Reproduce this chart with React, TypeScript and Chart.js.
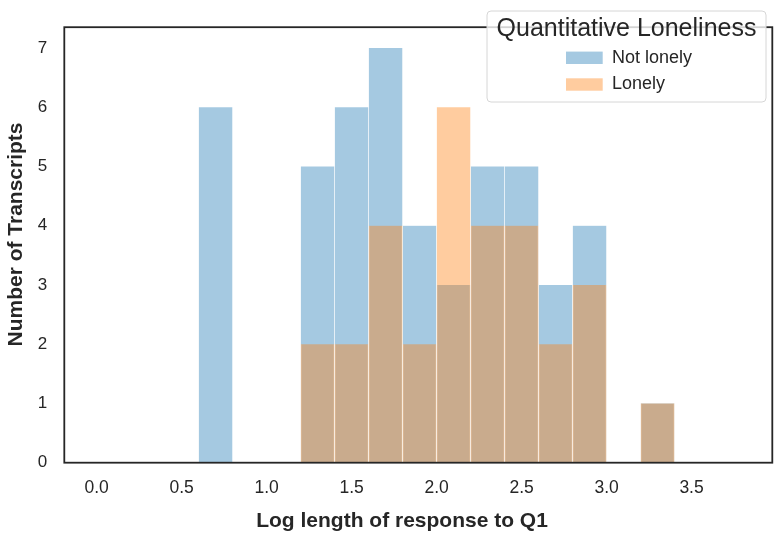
import React, { useEffect, useRef } from 'react';
import { Chart, registerables } from 'chart.js';

Chart.register(...registerables);

// ---- data ----
const binStarts = [0.0, 0.2, 0.4, 0.6, 0.8, 1.0, 1.2, 1.4, 1.6, 1.8, 2.0, 2.2, 2.4, 2.6, 2.8, 3.0, 3.2, 3.4, 3.6];
const binWidth = 0.2;
const notLonelyCounts = [0, 0, 0, 6, 0, 0, 5, 6, 7, 4, 3, 5, 5, 3, 4, 0, 1, 0, 0];
const lonelyCounts = [0, 0, 0, 0, 0, 0, 2, 2, 4, 2, 6, 4, 4, 2, 3, 0, 1, 0, 0];
const xTickValues = [0.0, 0.5, 1.0, 1.5, 2.0, 2.5, 3.0, 3.5];
const yTickValues = [0, 1, 2, 3, 4, 5, 6, 7];
const seriesNames = ['Not lonely', 'Lonely'];
const legendTitle = 'Quantitative Loneliness';
const xAxisTitle = 'Log length of response to Q1';
const yAxisTitle = 'Number of Transcripts';

const BLUE = 'rgba(31,119,180,0.4)';
const ORANGE = 'rgba(255,127,14,0.4)';
const FONT = '"Liberation Sans", Arial, Helvetica, sans-serif';
const TEXT = '#262626';

function toPoints(counts: number[]) {
  const pts: { x: number; y: number }[] = [];
  counts.forEach((c, i) => {
    if (c > 0) pts.push({ x: binStarts[i] + binWidth / 2, y: c });
  });
  return pts;
}

const decorPlugin = {
  id: 'decor',
  afterDraw(chart: any) {
    const { ctx, chartArea } = chart;
    const { left, top, right, bottom } = chartArea;
    ctx.save();
    // frame
    ctx.strokeStyle = TEXT;
    ctx.lineWidth = 1.8;
    ctx.strokeRect(left, top, right - left, bottom - top);

    // axis titles
    ctx.fillStyle = TEXT;
    ctx.font = `bold 21px ${FONT}`;
    ctx.textAlign = 'center';
    ctx.textBaseline = 'alphabetic';
    ctx.fillText(xAxisTitle, 402, 526.7);
    ctx.save();
    ctx.translate(21.5, 234.5);
    ctx.rotate(-Math.PI / 2);
    ctx.fillText(yAxisTitle, 0, 0);
    ctx.restore();

    // legend
    const lx = 487, ly = 11, lw = 279, lh = 91, r = 4;
    ctx.beginPath();
    ctx.moveTo(lx + r, ly);
    ctx.lineTo(lx + lw - r, ly);
    ctx.arcTo(lx + lw, ly, lx + lw, ly + r, r);
    ctx.lineTo(lx + lw, ly + lh - r);
    ctx.arcTo(lx + lw, ly + lh, lx + lw - r, ly + lh, r);
    ctx.lineTo(lx + r, ly + lh);
    ctx.arcTo(lx, ly + lh, lx, ly + lh - r, r);
    ctx.lineTo(lx, ly + r);
    ctx.arcTo(lx, ly, lx + r, ly, r);
    ctx.closePath();
    ctx.fillStyle = 'rgba(255,255,255,0.8)';
    ctx.fill();
    ctx.strokeStyle = '#d6d6d6';
    ctx.lineWidth = 1;
    ctx.stroke();

    ctx.fillStyle = TEXT;
    ctx.font = `25px ${FONT}`;
    ctx.textAlign = 'center';
    ctx.textBaseline = 'middle';
    ctx.fillText(legendTitle, lx + lw / 2, 29);

    const items = [
      { label: seriesNames[0], color: BLUE, y: 57.8 },
      { label: seriesNames[1], color: ORANGE, y: 84.5 },
    ];
    ctx.font = `18px ${FONT}`;
    ctx.textAlign = 'left';
    items.forEach((it) => {
      ctx.fillStyle = it.color;
      ctx.fillRect(566, it.y - 6.2, 36.7, 12.4);
      ctx.fillStyle = TEXT;
      ctx.fillText(it.label, 612, it.y);
    });
    ctx.restore();
  },
};

export default function App() {
  const ref = useRef<HTMLCanvasElement | null>(null);
  useEffect(() => {
    if (!ref.current) return;
    const edge = { left: 0.6, right: 0.6, top: 0, bottom: 0 };
    const chart = new Chart(ref.current, {
      type: 'bar',
      data: {
        datasets: [
          {
            label: seriesNames[0],
            data: toPoints(notLonelyCounts) as any,
            backgroundColor: BLUE,
            borderColor: 'rgba(255,255,255,0.6)',
            borderWidth: edge as any,
            order: 2,
          },
          {
            label: seriesNames[1],
            data: toPoints(lonelyCounts) as any,
            backgroundColor: ORANGE,
            borderColor: 'rgba(255,255,255,0.6)',
            borderWidth: edge as any,
            order: 1,
          },
        ],
      },
      options: {
        responsive: false,
        animation: false,
        devicePixelRatio: 1,
        layout: { padding: { top: 2.5, right: 4.7, left: 0, bottom: 0 } },
        datasets: {
          bar: { barPercentage: 1, categoryPercentage: 1, grouped: false },
        },
        plugins: { legend: { display: false }, tooltip: { enabled: false } },
        scales: {
          x: {
            type: 'linear',
            min: -0.19,
            max: 3.975,
            offset: false,
            grid: { display: false, drawTicks: false, tickLength: 0 },
            border: { display: false },
            ticks: {
              font: { family: FONT, size: 17.5 },
              color: TEXT,
              padding: 14.5,
              maxRotation: 0,
              callback: (v: any) => Number(v).toFixed(1),
            },
            afterBuildTicks: (s: any) => {
              s.ticks = xTickValues.map((v) => ({ value: v }));
            },
            afterFit: (s: any) => {
              s.height = 72.3;
            },
          },
          y: {
            type: 'linear',
            min: 0,
            max: 7.35,
            grid: { display: false, drawTicks: false, tickLength: 0 },
            border: { display: false },
            ticks: {
              font: { family: FONT, size: 17 },
              color: TEXT,
              padding: 17,
            },
            afterBuildTicks: (s: any) => {
              s.ticks = yTickValues.map((v) => ({ value: v }));
            },
            afterFit: (s: any) => {
              s.width = 64.3;
            },
          },
        },
      },
      plugins: [decorPlugin],
    } as any);
    return () => chart.destroy();
  }, []);
  return (
    <div style={{ position: 'fixed', left: 0, top: 0, width: 777, height: 535, background: '#fff' }}>
      <canvas ref={ref} width={777} height={535} style={{ display: 'block' }} />
    </div>
  );
}
